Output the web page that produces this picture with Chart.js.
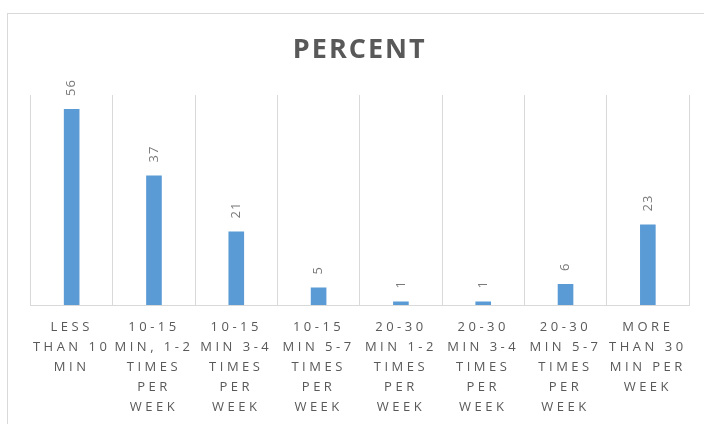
<!DOCTYPE html>
<html>
<head>
<meta charset="utf-8">
<script src="https://cdn.jsdelivr.net/npm/chart.js@4/dist/chart.umd.min.js"></script>
<style>
  html, body { margin: 0; padding: 0; width: 704px; height: 424px; overflow: hidden; background: #fff; }
  #frame { position: absolute; left: 7px; top: 13px; width: 800px; height: 500px; border: 1px solid #d9d9d9; }
  #c { position: absolute; left: 0; top: 0; }
</style>
</head>
<body>
<div id="frame"></div>
<canvas id="c" width="704" height="424"></canvas>
<script>
const categories = [
  ["LESS", "THAN 10", "MIN"],
  ["10-15", "MIN, 1-2", "TIMES", "PER", "WEEK"],
  ["10-15", "MIN 3-4", "TIMES", "PER", "WEEK"],
  ["10-15", "MIN 5-7", "TIMES", "PER", "WEEK"],
  ["20-30", "MIN 1-2", "TIMES", "PER", "WEEK"],
  ["20-30", "MIN 3-4", "TIMES", "PER", "WEEK"],
  ["20-30", "MIN 5-7", "TIMES", "PER", "WEEK"],
  ["MORE", "THAN 30", "MIN PER", "WEEK"]
];
const percents = [56, 37, 21, 5, 1, 1, 6, 23];
const titleText = "PERCENT";

const spacingPlugin = {
  id: 'spacing',
  beforeDraw(chart) { chart.ctx.letterSpacing = '2px'; },
  afterDatasetsDraw(chart) { chart.ctx.letterSpacing = '3.5px'; }
};
const valueLabels = {
  id: 'valueLabels',
  afterDatasetsDraw(chart) {
    const ctx = chart.ctx;
    const meta = chart.getDatasetMeta(0);
    ctx.save();
    ctx.letterSpacing = '1px';
    ctx.font = '13px "Open Sans"';
    ctx.fillStyle = '#7a7a7a';
    ctx.textAlign = 'left';
    ctx.textBaseline = 'middle';
    meta.data.forEach((bar, i) => {
      ctx.save();
      ctx.translate(bar.x, bar.y - 13);
      ctx.rotate(-Math.PI / 2);
      ctx.fillText(String(percents[i]), 0, 0);
      ctx.restore();
    });
    ctx.restore();
  }
};

new Chart(document.getElementById('c'), {
  type: 'bar',
  data: {
    labels: categories,
    datasets: [{
      data: percents,
      backgroundColor: '#5B9BD5',
      borderWidth: 0,
      barPercentage: 0.19,
      categoryPercentage: 1
    }]
  },
  options: {
    responsive: false,
    animation: false,
    devicePixelRatio: 1,
    layout: { padding: { left: 30.5, right: 15, top: 0, bottom: 0 } },
    plugins: {
      legend: { display: false },
      tooltip: { enabled: false },
      title: {
        display: true,
        text: titleText,
        color: '#595959',
        font: { family: 'Open Sans', size: 27, weight: 'bold', lineHeight: 1.2 },
        padding: { top: 34, bottom: 28.6 }
      }
    },
    scales: {
      x: {
        grid: { color: '#D9D9D9', drawTicks: false, offset: true },
        border: { color: '#D9D9D9' },
        ticks: {
          z: 1,
          color: '#595959',
          font: { family: 'Open Sans', size: 13, lineHeight: 20 / 13 },
          padding: 12,
          maxRotation: 0,
          minRotation: 0,
          autoSkip: false
        },
        afterFit(scale) { scale.height = 119; }
      },
      y: { display: false, min: 0, max: 60 }
    }
  },
  plugins: [valueLabels, spacingPlugin]
});
</script>
</body>
</html>
